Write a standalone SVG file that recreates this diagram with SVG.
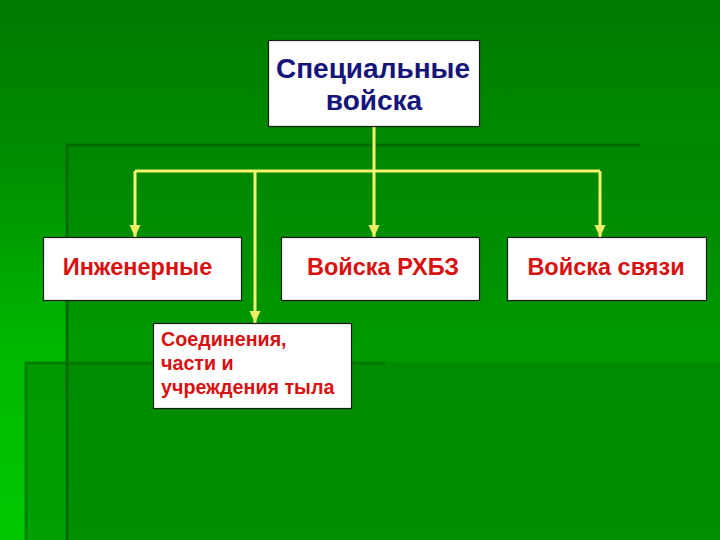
<svg xmlns="http://www.w3.org/2000/svg" width="720" height="540" viewBox="0 0 720 540">
  <defs>
    <linearGradient id="bg" x1="0" y1="0" x2="0" y2="1">
      <stop offset="0" stop-color="#007a00"/>
      <stop offset="0.26" stop-color="#008a00"/>
      <stop offset="0.4" stop-color="#009a00"/>
      <stop offset="0.65" stop-color="#00b800"/>
      <stop offset="1" stop-color="#00c800"/>
    </linearGradient>
    <linearGradient id="ov1" x1="0" y1="0" x2="0" y2="1">
      <stop offset="0" stop-color="#008600"/>
      <stop offset="0.55" stop-color="#009a00"/>
      <stop offset="1" stop-color="#00a400"/>
    </linearGradient>
    <marker id="arr" viewBox="0 0 12 12" refX="12" refY="6" markerWidth="12" markerHeight="12" markerUnits="userSpaceOnUse" orient="auto">
      <path d="M0,0.5 L12,6 L0,11.5 Z" fill="#eeee66"/>
    </marker>
    <style>
      .box { fill: #ffffff; stroke: #1a1a1a; stroke-width: 1.2; }
      .conn { fill: none; stroke: #f4f470; stroke-width: 3; }
      .title { font-family: "Liberation Sans", Arial, sans-serif; font-weight: bold; font-size: 28px; fill: #14147a; text-anchor: middle; }
      .lbl { font-family: "Liberation Sans", Arial, sans-serif; font-weight: bold; font-size: 23.5px; fill: #d81010; text-anchor: middle; }
      .lbl2 { font-family: "Liberation Sans", Arial, sans-serif; font-weight: bold; font-size: 19.7px; fill: #d81010; }
      .edge { stroke: #006c00; stroke-width: 3; fill: none; }
    </style>
  </defs>

  <!-- background -->
  <rect x="0" y="0" width="720" height="540" fill="url(#bg)"/>
  <rect x="67" y="145" width="653" height="395" fill="url(#ov1)"/>
  <rect x="25" y="362" width="695" height="178" fill="#008000" fill-opacity="0.55"/>
  <path class="edge" d="M640,145 L67,145 L67,540"/>
  <path class="edge" d="M385,363 L26,363 L26,540" stroke-opacity="0.6"/>

  <!-- connectors -->
  <g id="connectors">
    <path class="conn" d="M374,127 L374,237" marker-end="url(#arr)"/>
    <path class="conn" d="M135,171 L600,171"/>
    <path class="conn" d="M135,171 L135,237" marker-end="url(#arr)"/>
    <path class="conn" d="M600,171 L600,237" marker-end="url(#arr)"/>
    <path class="conn" d="M255,171 L255,323" marker-end="url(#arr)"/>
  </g>

  <g id="node-special">
    <rect class="box" x="268.5" y="40.5" width="211" height="86"/>
    <text class="title" x="373" y="78">Специальные</text>
    <text class="title" x="374" y="110">войска</text>
  </g>

  <g id="node-engineer">
    <rect class="box" x="43.5" y="237.5" width="198" height="63"/>
    <text class="lbl" x="137.5" y="275">Инженерные</text>
  </g>

  <g id="node-rhbz">
    <rect class="box" x="281.5" y="237.5" width="198" height="63"/>
    <text class="lbl" x="383" y="275">Войска РХБЗ</text>
  </g>

  <g id="node-svyaz">
    <rect class="box" x="507.5" y="237.5" width="199" height="63"/>
    <text class="lbl" x="606" y="275">Войска связи</text>
  </g>

  <g id="node-rear">
    <rect class="box" x="153.5" y="323.5" width="198" height="85"/>
    <text class="lbl2" x="161" y="346">Соединения,</text>
    <text class="lbl2" x="161" y="370">части и</text>
    <text class="lbl2" x="161" y="394">учреждения тыла</text>
  </g>
</svg>
